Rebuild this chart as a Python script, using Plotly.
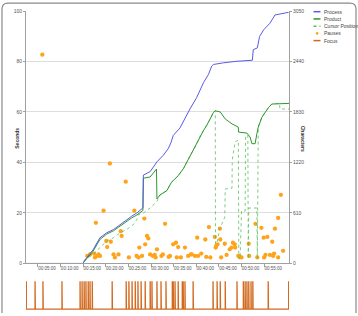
import plotly.graph_objects as go

# ---------------- data (time in minutes) ----------------
process_t = [0.35, 12.9, 13.8, 15.2, 16.7, 18.2, 19.7, 21.15, 22.6, 23.7, 24.85, 25.8, 26.2, 26.3,
             27.8, 29.3, 30.7, 31.8, 32.4, 32.9, 34.4, 36.6, 38.1, 39.6, 40.7, 41.4, 41.8, 44.0,
             47.0, 50.4, 50.6, 51.5, 52.0, 52.9, 54.3, 55.4, 57.3, 58.4]
process_c = [0, 0, 72, 167, 311, 371, 410, 470, 530, 570, 610, 646, 670, 1068,
             1109, 1228, 1307, 1387, 1460, 1546, 1638, 1866, 2006, 2185, 2284, 2384, 2404, 2424,
             2443, 2455, 2583, 2604, 2743, 2823, 2903, 3002, 3022, 3034]

product_t = [0.35, 12.9, 13.8, 15.2, 16.7, 18.2, 19.7, 21.15, 22.6, 23.7, 24.85, 25.8, 26.2, 26.3,
             27.8, 29.2, 29.3, 30.0, 31.5, 32.5, 34.0, 35.2, 36.6, 37.7, 38.9, 39.6, 40.3, 41.1,
             41.8, 42.2, 43.3, 44.4, 45.9, 47.3, 47.35, 49.2, 49.9, 50.3, 51.0, 51.4, 51.7, 52.5,
             53.2, 54.0, 54.7, 56.9, 58.5]
product_c = [0, 0, 60, 150, 290, 355, 395, 455, 510, 550, 585, 620, 640, 1030,
             1045, 1140, 780, 829, 880, 980, 1060, 1150, 1300, 1400, 1546, 1606, 1666, 1746,
             1826, 1845, 1830, 1746, 1686, 1647, 1587, 1575, 1527, 1447, 1447, 1567, 1647, 1766,
             1826, 1886, 1926, 1934, 1934]

cursor_t = [0.35, 12.9, 13.0, 15.2, 16.7, 18.2, 19.7, 21.15, 22.6, 24.1, 24.85, 25.2, 26.3, 27.8,
            29.3, 30.0, 31.5, 32.5, 34.0, 35.2, 36.6, 37.7, 38.9, 39.6, 40.3, 41.1, 41.8, 42.2,
            42.25, 42.6, 43.2, 44.3, 44.4, 45.9, 45.95, 46.6, 47.3, 47.4, 47.7, 48.0, 48.8, 48.9,
            49.4, 49.5, 49.6, 51.4, 51.5, 51.7, 52.5, 53.2, 54.0, 54.7, 56.4, 56.5, 58.5]
cursor_c = [0, 0, 32, 111, 191, 271, 311, 371, 410, 470, 530, 590, 610, 670,
            750, 829, 880, 980, 1060, 1150, 1300, 1400, 1546, 1606, 1666, 1746, 1826, 1845,
            230, 260, 420, 560, 900, 910, 1250, 1470, 1490, 56, 56, 634, 634, 1546,
            1546, 56, 670, 670, 56, 1647, 1766, 1826, 1886, 1926, 1934, 1866, 1866]

pause_t = [3.96, 18.9, 22.4, 17.5, 24.3, 15.8, 26.5, 31.1, 27.1, 27.4, 21.5, 21.3, 18.1, 19.1,
           32.9, 33.5, 26.7, 25.4, 18.3, 29.3, 13.9, 15.4, 16.4, 16.7, 15.6, 19.7, 20.0, 20.8,
           23.1, 24.8, 25.2, 27.8, 28.4, 29.0, 30.3, 30.6, 32.2, 33.7,
           56.7, 56.1, 51.1, 55.4, 52.4, 40.8, 43.2, 53.7, 52.9, 38.2, 40.0, 42.1, 43.3, 54.8,
           49.6, 44.3, 42.7, 46.1, 46.5, 45.8, 45.4, 35.5, 34.0, 42.4, 42.3, 57.2, 55.2, 54.3,
           53.3, 37.0, 39.1, 38.4, 37.7, 36.2, 40.2, 41.1, 43.5, 44.7, 47.6, 48.0, 49.7, 51.5,
           53.0, 56.1, 55.0, 47.3, 34.6, 46.6, 14.5, 16.1, 26.0, 28.8, 31.9, 36.8]
pause_s = [82.7, 39.6, 32.4, 20.9, 20.9, 16.1, 17.8, 15.7, 10.9, 9.9, 10.9, 12.8, 8.9, 8.6,
           7.6, 8.2, 7.6, 6.3, 6.5, 5.6, 3.0, 3.9, 3.6, 3.0, 2.4, 3.6, 2.4, 3.6,
           2.4, 3.0, 2.4, 3.6, 3.0, 2.4, 3.0, 3.6, 3.0, 2.4,
           27.2, 18.0, 15.7, 13.8, 14.1, 14.4, 13.8, 10.5, 10.2, 10.2, 9.5, 10.5, 9.5, 8.6,
           7.8, 7.8, 7.6, 8.2, 7.6, 6.3, 5.6, 6.3, 6.5, 6.9, 6.3, 5.0, 3.9, 3.4,
           3.4, 3.6, 3.9, 3.0, 3.0, 3.0, 2.6, 2.4, 2.4, 3.4, 2.6, 2.4, 3.0, 2.4,
           2.4, 2.4, 3.0, 3.0, 2.4, 6.3, 3.6, 3.0, 3.0, 3.4, 2.6, 3.6]

focus_spikes = [2.35, 4.1, 8.3, 12.3, 12.75, 13.2, 13.6, 14.1, 14.5, 15.0, 19.4, 22.5, 23.1, 23.8,
                24.5, 25.1, 25.8, 26.7, 27.8, 28.2, 29.3, 30.2, 31.3, 32.7, 32.9, 33.3, 34.0, 34.9,
                35.1, 35.5, 37.3, 41.7, 42.6, 43.3, 44.4, 47.0, 48.4, 48.8, 49.2, 49.6, 50.1, 50.5,
                53.9]
focus_start, focus_end = 0.42, 58.42

tick_minutes = [5, 10, 15, 20, 25, 30, 35, 40, 45, 50, 55]
tick_labels = ["00:%02d:00" % m for m in tick_minutes]
left_ticks = [0, 20, 40, 60, 80, 100]
right_ticks = [0, 610, 1220, 1830, 2440, 3050]

# ---------------- colours ----------------
C_PROC = "#5a5ae6"
C_PROD = "#2f962f"
C_CUR = "#5cbf5c"
C_PAUSE = "#ffa31a"
C_FOCUS = "#d2691e"
GRID = "#dedede"
AX = "#a0a0a0"
FONT = "Liberation Sans"

# focus step path from spike times
fx, fy = [focus_start, focus_start], [1, 0]
for t in focus_spikes:
    fx += [t, t, t + 0.06, t + 0.06]
    fy += [0, 1, 1, 0]
fx += [focus_end, focus_end]
fy += [0, 1]

fig = go.Figure()
fig.add_trace(go.Scatter(x=pause_t, y=pause_s, mode="markers", name="Pauses",
                         marker=dict(color=C_PAUSE, size=4.3, line=dict(width=0)),
                         xaxis="x", yaxis="y"))
fig.add_trace(go.Scatter(x=cursor_t, y=cursor_c, mode="lines", name="Cursor Position",
                         line=dict(color=C_CUR, width=0.8, dash="dot"), xaxis="x", yaxis="y2"))
fig.add_trace(go.Scatter(x=product_t, y=product_c, mode="lines", name="Product",
                         line=dict(color=C_PROD, width=1), xaxis="x", yaxis="y2"))
fig.add_trace(go.Scatter(x=process_t, y=process_c, mode="lines", name="Process",
                         line=dict(color=C_PROC, width=1), xaxis="x", yaxis="y2"))
fig.add_trace(go.Scatter(x=fx, y=fy, mode="lines", name="Focus",
                         line=dict(color=C_FOCUS, width=1.3), xaxis="x2", yaxis="y3"))

W, H = 358, 316
L, R, T, B = 26, 69, 11, 3
pw, ph = W - L - R, H - T - B


def px(x):
    return (x - L) / pw


def py(y):
    return (H - B - y) / ph


tickfont = dict(family=FONT, size=5, color="#555")
fig.update_layout(
    width=W, height=H, margin=dict(l=L, r=R, t=T, b=B),
    paper_bgcolor="white", plot_bgcolor="white", showlegend=False,
    xaxis=dict(domain=[0, 1], range=[0.35, 58.5], anchor="y",
               tickvals=tick_minutes, ticktext=tick_labels, ticks="",
               tickfont=dict(family=FONT, size=4.5, color="#555"),
               showline=True, linecolor=AX, linewidth=1, showgrid=False, zeroline=False,
               minor=dict(tickvals=[m - 2 for m in tick_minutes] + [53], ticks="outside",
                          ticklen=3, tickcolor=AX, showgrid=False)),
    yaxis=dict(domain=[py(266), 1], range=[0, 100], tickvals=left_ticks, anchor="x",
               showgrid=True, gridcolor=GRID, gridwidth=1, zeroline=False,
               showline=True, linecolor=AX, ticks="outside", ticklen=2, tickcolor=AX,
               tickfont=tickfont),
    yaxis2=dict(overlaying="y", side="right", anchor="x", range=[0, 3050],
                tickvals=right_ticks, showgrid=False, zeroline=False,
                showline=True, linecolor=AX, ticks="outside", ticklen=2, tickcolor=AX,
                tickfont=tickfont),
    xaxis2=dict(domain=[0, 1], range=[0.35, 58.5], anchor="y3", visible=False),
    yaxis3=dict(domain=[0, py(283)], range=[-0.03, 1.03], visible=False),
)

# axis titles
fig.add_annotation(x=px(12), y=py(140), xref="paper", yref="paper", text="<b>Seconds</b>",
                   textangle=-90, showarrow=False, font=dict(family=FONT, size=5, color="#333"))
fig.add_annotation(x=px(308), y=py(140), xref="paper", yref="paper", text="<b>Characters</b>",
                   textangle=90, showarrow=False, font=dict(family=FONT, size=5, color="#333"))

# manual legend
legend_items = [("Process", C_PROC, "solid"), ("Product", C_PROD, "solid"),
                ("Cursor Position", C_CUR, "dot"), ("Pauses", C_PAUSE, "marker"),
                ("Focus", C_FOCUS, "solid")]
for i, (name, col, sty) in enumerate(legend_items):
    yy = 11.7 + i * 7.3
    if sty == "marker":
        fig.add_shape(type="circle", xref="paper", yref="paper",
                      x0=px(315.8), x1=px(318.4), y0=py(yy + 1.3), y1=py(yy - 1.3),
                      fillcolor=col, line=dict(width=0))
    else:
        fig.add_shape(type="line", xref="paper", yref="paper",
                      x0=px(313.5), x1=px(320.5), y0=py(yy), y1=py(yy),
                      line=dict(color=col, width=1.5, dash="dot" if sty == "dot" else "solid"))
    fig.add_annotation(x=px(322), y=py(yy), xref="paper", yref="paper", text=name,
                       xanchor="left", yanchor="middle", showarrow=False,
                       font=dict(family=FONT, size=5, color="#444"))

# rounded frame (top and sides)
x0, x1, y0, y1 = px(2), px(356), py(316), py(3)
rx, ry = 6 / pw, 6 / ph
path = (f"M {x0},{y0} L {x0},{y1 - ry} Q {x0},{y1} {x0 + rx},{y1} "
        f"L {x1 - rx},{y1} Q {x1},{y1} {x1},{y1 - ry} L {x1},{y0}")
fig.add_shape(type="path", path=path, xref="paper", yref="paper",
              line=dict(color="#8a8a8a", width=1.2))

fig.write_html("out.html")
